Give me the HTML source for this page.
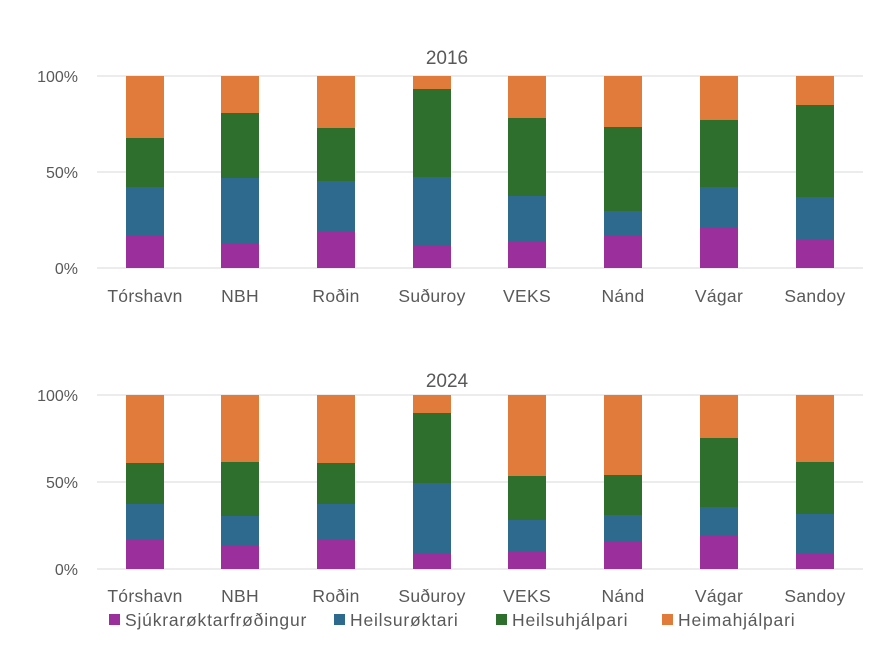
<!DOCTYPE html>
<html><head><meta charset="utf-8"><style>
body{margin:0;background:#fff;}
svg text{font-family:"Liberation Sans",sans-serif;fill:#595959;}
</style></head><body>
<svg width="890" height="656" viewBox="0 0 890 656" xmlns="http://www.w3.org/2000/svg">
<g stroke="#d9d9d9" stroke-width="1">
<line x1="97" y1="76" x2="863" y2="76"/><line x1="97" y1="172" x2="863" y2="172"/><line x1="97" y1="268" x2="863" y2="268"/>
<line x1="97" y1="395" x2="863" y2="395"/><line x1="97" y1="482" x2="863" y2="482"/><line x1="97" y1="569" x2="863" y2="569"/>
</g>
<text x="447" y="64" font-size="19" text-anchor="middle">2016</text>
<text x="447" y="387" font-size="19" text-anchor="middle">2024</text>
<g font-size="16" text-anchor="end">
<text x="78" y="82">100%</text><text x="78" y="178">50%</text><text x="78" y="274">0%</text>
<text x="78" y="401">100%</text><text x="78" y="488">50%</text><text x="78" y="575">0%</text>
</g>
<g id="bars"></g>
<g font-size="17.5" letter-spacing="0.3" text-anchor="middle" id="labels"></g>
<g font-size="17.5" letter-spacing="0.8">
<rect x="109" y="614" width="11" height="11" fill="#9b2f9b"/><text x="125" y="626">Sjúkrarøktarfrøðingur</text>
<rect x="334" y="614" width="11" height="11" fill="#2e6a8e"/><text x="350" y="626">Heilsurøktari</text>
<rect x="496" y="614" width="11" height="11" fill="#2f6f2e"/><text x="512" y="626">Heilsuhjálpari</text>
<rect x="662" y="614" width="11" height="11" fill="#e07b3c"/><text x="678" y="626">Heimahjálpari</text>
</g>
</svg>
<script>
var names=["Tórshavn","NBH","Roðin","Suðuroy","VEKS","Nánd","Vágar","Sandoy"];
var xs=[145,240,336,432,527,623,719,815];
var top1=[[236,187,138],[243,178,113],[232,181,128],[245,177,89],[242,196,118],[235,211,127],[227,187,120],[240,197,105]];
var top2=[[540,504,463],[545,516,462],[540,504,463],[554,483,413],[552,520,476],[542,515,475],[535,507,438],[553,514,462]];
var cols=["#9b2f9b","#2e6a8e","#2f6f2e","#e07b3c"];
var ns="http://www.w3.org/2000/svg",b=document.getElementById("bars"),l=document.getElementById("labels");
function draw(t,bot,tp,ly){
 for(var i=0;i<8;i++){
  var ys=[bot].concat(t[i]).concat([tp]);
  for(var k=0;k<4;k++){
   var r=document.createElementNS(ns,"rect");
   r.setAttribute("x",xs[i]-19);r.setAttribute("width",38);
   r.setAttribute("y",ys[k+1]);r.setAttribute("height",ys[k]-ys[k+1]);
   r.setAttribute("fill",cols[k]);b.appendChild(r);
  }
  var tx=document.createElementNS(ns,"text");
  tx.setAttribute("x",xs[i]);tx.setAttribute("y",ly);tx.textContent=names[i];l.appendChild(tx);
 }
}
draw(top1,268,76,302);draw(top2,569,395,602);
</script>
</body></html>
